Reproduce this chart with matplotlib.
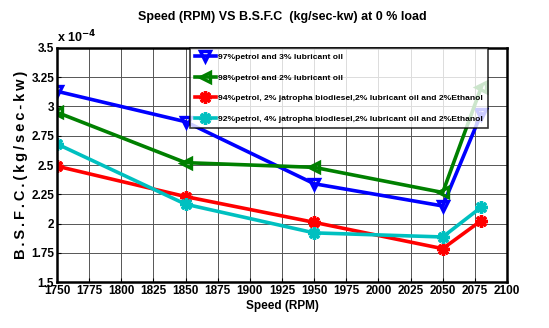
import matplotlib
matplotlib.use("Agg")
import matplotlib.pyplot as plt
from matplotlib.ticker import FuncFormatter

plt.rcParams['font.family'] = ['Liberation Sans', 'DejaVu Sans']
plt.rcParams['font.weight'] = 'bold'

speed = [1750, 1850, 1950, 2050, 2080]
s_97 = [3.13, 2.87, 2.34, 2.15, 2.94]
s_98 = [2.95, 2.52, 2.48, 2.265, 3.165]
s_94 = [2.49, 2.23, 2.01, 1.785, 2.025]
s_92 = [2.68, 2.165, 1.92, 1.885, 2.14]
labels = ["97%petrol and 3% lubricant oil",
          "98%petrol and 2% lubricant oil",
          "94%petrol, 2% jatropha biodiesel,2% lubricant oil and 2%Ethanol",
          "92%petrol, 4% jatropha biodiesel,2% lubricant oil and 2%Ethanol"]
xticks = list(range(1750, 2101, 25))
yticks = [1.5, 1.75, 2, 2.25, 2.5, 2.75, 3, 3.25, 3.5]

fig = plt.figure(figsize=(5.49, 3.28), dpi=100)
ax = fig.add_axes([0.1038, 0.1402, 0.8197, 0.7135])

lw = 2.6
ax.plot(speed, s_97, color='#0000ff', lw=lw, marker='v', ms=6.5, mew=2.4,
        mfc='none', label=labels[0])
ax.plot(speed, s_98, color='#008000', lw=lw, marker='<', ms=6.5, mew=2.4,
        mfc='none', label=labels[1])
ax.plot(speed, s_94, color='#ff0000', lw=lw, marker=(8, 2, 0), ms=9, mew=2.4,
        label=labels[2])
ax.plot(speed, s_92, color='#00c0c0', lw=lw, marker=(8, 2, 0), ms=9, mew=2.4,
        label=labels[3])

ax.set_xlim(1750, 2100)
ax.set_ylim(1.5, 3.5)
ax.set_xticks(xticks)
ax.set_yticks(yticks)
ax.yaxis.set_major_formatter(FuncFormatter(lambda v, p: '%g' % v))
ax.tick_params(direction='in', labelsize=8.5, length=3, pad=2)
for lab in ax.get_xticklabels() + ax.get_yticklabels():
    lab.set_fontweight('bold')
ax.grid(True, color='#555555', lw=0.7)
for sp in ax.spines.values():
    sp.set_linewidth(1.8)

ax.set_title("Speed (RPM) VS B.S.F.C  (kg/sec-kw) at 0 % load",
             fontsize=9, fontweight='bold', pad=20)
ax.set_xlabel("Speed (RPM)", fontsize=8.5, fontweight='bold', labelpad=2)
ax.set_ylabel("\u2009".join("B.S.F.C.(kg/sec-kw)"), fontsize=10.5,
              fontweight='bold', labelpad=2)
ax.text(0.0, 1.01, r"x 10$^{\mathbf{-4}}$", transform=ax.transAxes,
        fontsize=9, fontweight='bold', ha='left', va='bottom')

leg = ax.legend(loc='upper right', bbox_to_anchor=(0.958, 1.0), fontsize=6.1,
                frameon=True, fancybox=False, edgecolor='black',
                handlelength=2.4, handletextpad=0.3, borderpad=0.6,
                labelspacing=1.5, borderaxespad=0)
leg.get_frame().set_linewidth(1.2)
for t in leg.get_texts():
    t.set_fontweight('bold')

fig.savefig("out.png", dpi=100)
